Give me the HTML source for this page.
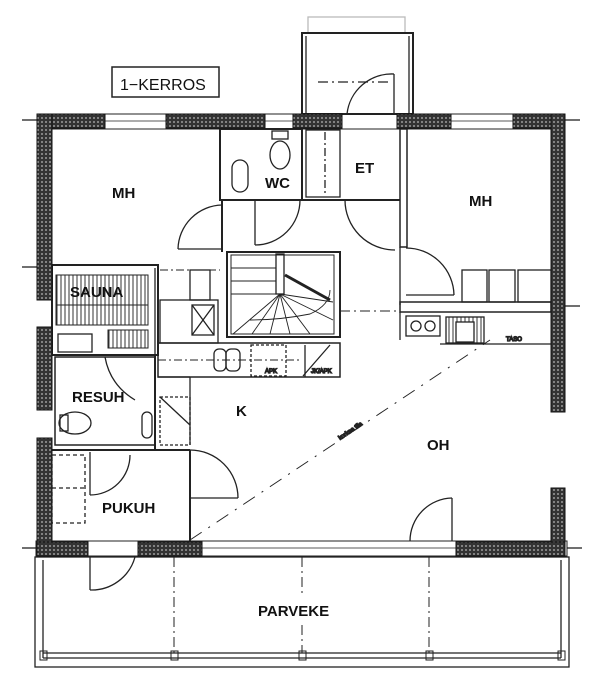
<!DOCTYPE html>
<html><head><meta charset="utf-8"><style>
html,body{margin:0;padding:0;background:#fff;}
svg{display:block;}
text{font-family:"Liberation Sans",Arial,sans-serif;font-weight:bold;font-size:15px;fill:#111;}
</style></head><body>
<svg width="600" height="688" viewBox="0 0 600 688" xmlns="http://www.w3.org/2000/svg">
<defs>
<pattern id="h" width="4" height="4" patternUnits="userSpaceOnUse">
<rect width="4" height="4" fill="#333"/><circle cx="2" cy="2" r="0.9" fill="#bbb"/>
</pattern>
<pattern id="v" width="4" height="4" patternUnits="userSpaceOnUse">
<rect width="4" height="4" fill="#fff"/><line x1="1" y1="0" x2="1" y2="4" stroke="#333" stroke-width="1"/>
</pattern>
</defs>
<g fill="none" stroke="#222" stroke-width="1.3">
<rect x="112" y="67" width="107" height="30" stroke-width="1.5"/>
<rect x="308" y="17" width="97" height="16" stroke="#bbb"/>
<rect x="302" y="33" width="111" height="81" stroke-width="2"/>
<line x1="306" y1="36" x2="306" y2="114"/><line x1="409" y1="36" x2="409" y2="114"/>
<line x1="318" y1="82" x2="390" y2="82" stroke-dasharray="10,4,2,4"/>
<line x1="394" y1="74" x2="394" y2="114"/>
<path d="M394 74 A45 45 0 0 0 347 114"/>
<rect x="38" y="114" width="527" height="15" stroke-width="1"/>
<line x1="105" y1="121" x2="166" y2="121" stroke-width="0.8"/><line x1="265" y1="121" x2="293" y2="121" stroke-width="0.8"/><line x1="451" y1="121" x2="513" y2="121" stroke-width="0.8"/>
<rect x="36" y="541" width="531" height="15" stroke-width="1"/>
<line x1="202" y1="548" x2="456" y2="548" stroke-width="0.8"/>
<rect x="35" y="557" width="534" height="110" stroke-width="1.3"/>
<line x1="43" y1="653" x2="561" y2="653"/><line x1="43" y1="658" x2="561" y2="658"/>
<line x1="43" y1="560" x2="43" y2="658"/><line x1="561" y1="560" x2="561" y2="658"/>
<g stroke-dasharray="10,4,2,4" stroke-width="1"><line x1="174" y1="557" x2="174" y2="653"/><line x1="302" y1="557" x2="302" y2="595"/><line x1="302" y1="625" x2="302" y2="653"/><line x1="429" y1="557" x2="429" y2="653"/></g>
<g stroke-width="1"><rect x="40" y="651" width="7" height="9"/><rect x="171" y="651" width="7" height="9"/><rect x="299" y="651" width="7" height="9"/><rect x="426" y="651" width="7" height="9"/><rect x="558" y="651" width="7" height="9"/></g>
<line x1="90" y1="557" x2="90" y2="590"/><path d="M90 590 A45 45 0 0 0 135 557"/>
<line x1="22" y1="548" x2="36" y2="548"/><line x1="567" y1="548" x2="582" y2="548"/>
<line x1="22" y1="120" x2="38" y2="120"/><line x1="565" y1="120" x2="580" y2="120"/>
<line x1="22" y1="267" x2="38" y2="267"/><line x1="565" y1="306" x2="580" y2="306"/>
<rect x="220" y="129" width="82" height="71" stroke-width="2"/>
<ellipse cx="280" cy="155" rx="10" ry="14"/><rect x="272" y="131" width="16" height="8"/>
<rect x="232" y="160" width="16" height="32" rx="8"/>
<line x1="255" y1="200" x2="255" y2="245"/><path d="M255 245 A45 45 0 0 0 300 200"/>
<rect x="306" y="130" width="34" height="67"/>
<line x1="325" y1="132" x2="325" y2="195" stroke-dasharray="8,3,2,3"/>
<line x1="302" y1="200" x2="400" y2="200" stroke-width="2"/>
<path d="M345 200 A50 50 0 0 0 395 250"/>
<line x1="222" y1="200" x2="222" y2="252" stroke-width="2"/>
<path d="M222 205 A45 45 0 0 0 178 249"/><line x1="178" y1="249" x2="222" y2="249"/>
<rect x="400" y="129" width="7" height="118" stroke-width="1.5"/>
<line x1="400" y1="247" x2="400" y2="305"/>
<path d="M406 248 A48 48 0 0 1 454 295"/><line x1="406" y1="295" x2="454" y2="295"/>
<rect x="462" y="270" width="25" height="32"/><rect x="489" y="270" width="26" height="32"/><rect x="518" y="270" width="33" height="32"/>
<rect x="400" y="302" width="151" height="10" stroke-width="1.5"/>
<line x1="400" y1="312" x2="400" y2="340"/>
<rect x="406" y="316" width="34" height="20"/><circle cx="416" cy="326" r="5"/><circle cx="430" cy="326" r="5"/>
<rect x="446" y="317" width="38" height="26" fill="url(#v)"/><rect x="456" y="322" width="18" height="20" fill="#fff"/>
<line x1="440" y1="344" x2="551" y2="344"/>
<text x="506" y="341" style="font-size:6px;font-weight:normal">TASO</text>
<rect x="227" y="252" width="113" height="85" stroke-width="2"/>
<rect x="231" y="255" width="103" height="79" stroke-width="1"/>
<rect x="276" y="254" width="8" height="40"/>
<g stroke-width="0.9"><line x1="231" y1="268" x2="276" y2="268"/><line x1="231" y1="281" x2="276" y2="281"/><line x1="231" y1="294" x2="276" y2="294"/>
<line x1="280" y1="294" x2="233" y2="334"/><line x1="280" y1="294" x2="252" y2="334"/><line x1="280" y1="294" x2="270" y2="334"/><line x1="280" y1="294" x2="290" y2="334"/><line x1="280" y1="294" x2="310" y2="334"/><line x1="280" y1="294" x2="333" y2="320"/><line x1="280" y1="294" x2="333" y2="302"/>
<path d="M250 320 Q280 320 310 314 Q330 305 330 290"/><line x1="285" y1="275" x2="330" y2="300" stroke-width="3"/></g>
<line x1="340" y1="311" x2="400" y2="311" stroke-dasharray="10,4,2,4" stroke-width="1"/>
<rect x="158" y="343" width="182" height="34" stroke-width="1.5"/>
<line x1="158" y1="360" x2="300" y2="360" stroke-dasharray="8,3,2,3" stroke-width="0.9"/>
<rect x="214" y="349" width="12" height="22" rx="5"/><rect x="226" y="349" width="14" height="22" rx="5"/>
<rect x="251" y="345" width="35" height="31" stroke-dasharray="3,2"/>
<line x1="303" y1="376" x2="330" y2="345"/><line x1="305" y1="345" x2="305" y2="377"/>
<text x="265" y="373" style="font-size:6px;font-weight:normal">APK</text><text x="311" y="373" style="font-size:6px;font-weight:normal">JK/APK</text>
<line x1="190" y1="377" x2="190" y2="445"/>
<line x1="158" y1="377" x2="190" y2="377"/>
<rect x="160" y="300" width="58" height="43"/>
<rect x="190" y="270" width="20" height="30"/>
<rect x="192" y="305" width="22" height="30"/><line x1="192" y1="305" x2="214" y2="335"/><line x1="214" y1="305" x2="192" y2="335"/>
<line x1="160" y1="270" x2="220" y2="270" stroke-dasharray="8,3,2,3" stroke-width="0.9"/>
<rect x="160" y="397" width="30" height="48" stroke-dasharray="3,2"/>
<line x1="160" y1="397" x2="190" y2="425"/>
<line x1="190" y1="540" x2="490" y2="340" stroke-dasharray="14,8,2,8" stroke-width="1"/>
<text x="340" y="440" transform="rotate(-34 340 440)" style="font-size:6px;font-weight:normal">korkea tila</text>
<line x1="452" y1="498" x2="452" y2="541"/><path d="M452 498 A43 43 0 0 0 410 541"/>
<line x1="190" y1="450" x2="190" y2="541" stroke-width="2"/>
<path d="M190 450 A48 48 0 0 1 238 498"/><line x1="190" y1="498" x2="238" y2="498"/>
<rect x="52" y="265" width="106" height="90" stroke-width="2"/>
<rect x="56" y="275" width="92" height="30" fill="url(#v)" stroke-width="1"/>
<rect x="56" y="305" width="92" height="20" fill="url(#v)" stroke-width="1"/>
<rect x="108" y="330" width="40" height="18" fill="url(#v)" stroke-width="1"/>
<rect x="58" y="334" width="34" height="18"/>
<line x1="155" y1="268" x2="155" y2="355"/>
<rect x="55" y="357" width="100" height="88" stroke-width="1.5"/>
<line x1="155" y1="355" x2="155" y2="450" stroke-width="2"/>
<path d="M105 357 Q110 385 135 400"/>
<ellipse cx="75" cy="423" rx="16" ry="11"/><rect x="60" y="415" width="8" height="16"/>
<rect x="142" y="412" width="10" height="26" rx="5"/>
<line x1="45" y1="450" x2="190" y2="450" stroke-width="2"/>
<rect x="52" y="455" width="33" height="68" stroke-dasharray="4,3"/>
<line x1="52" y1="488" x2="85" y2="488" stroke-dasharray="4,3"/>
<line x1="90" y1="452" x2="90" y2="495"/><path d="M90 495 A40 40 0 0 0 130 455"/>
</g>
<g fill="url(#h)" stroke="#111" stroke-width="1">
<rect x="37" y="114" width="68" height="14"/>
<rect x="166" y="114" width="99" height="14"/>
<rect x="293" y="114" width="49" height="14"/>
<rect x="397" y="114" width="54" height="14"/>
<rect x="513" y="114" width="52" height="14"/>
<rect x="37" y="114" width="15" height="186"/>
<rect x="37" y="327" width="15" height="83"/>
<rect x="37" y="438" width="15" height="118"/>
<rect x="551" y="114" width="14" height="298"/>
<rect x="551" y="488" width="14" height="68"/>
<rect x="37" y="542" width="51" height="14"/>
<rect x="138" y="542" width="64" height="14"/>
<rect x="456" y="542" width="109" height="14"/>
</g>
<text x="120" y="90" style="font-weight:normal;font-size:16px">1−KERROS</text>
<text x="112" y="198">MH</text>
<text x="265" y="188">WC</text>
<text x="355" y="173">ET</text>
<text x="469" y="206">MH</text>
<text x="70" y="297">SAUNA</text>
<text x="72" y="402">RESUH</text>
<text x="236" y="416">K</text>
<text x="427" y="450">OH</text>
<text x="102" y="513">PUKUH</text>
<text x="258" y="616">PARVEKE</text>
</svg>
</body></html>
